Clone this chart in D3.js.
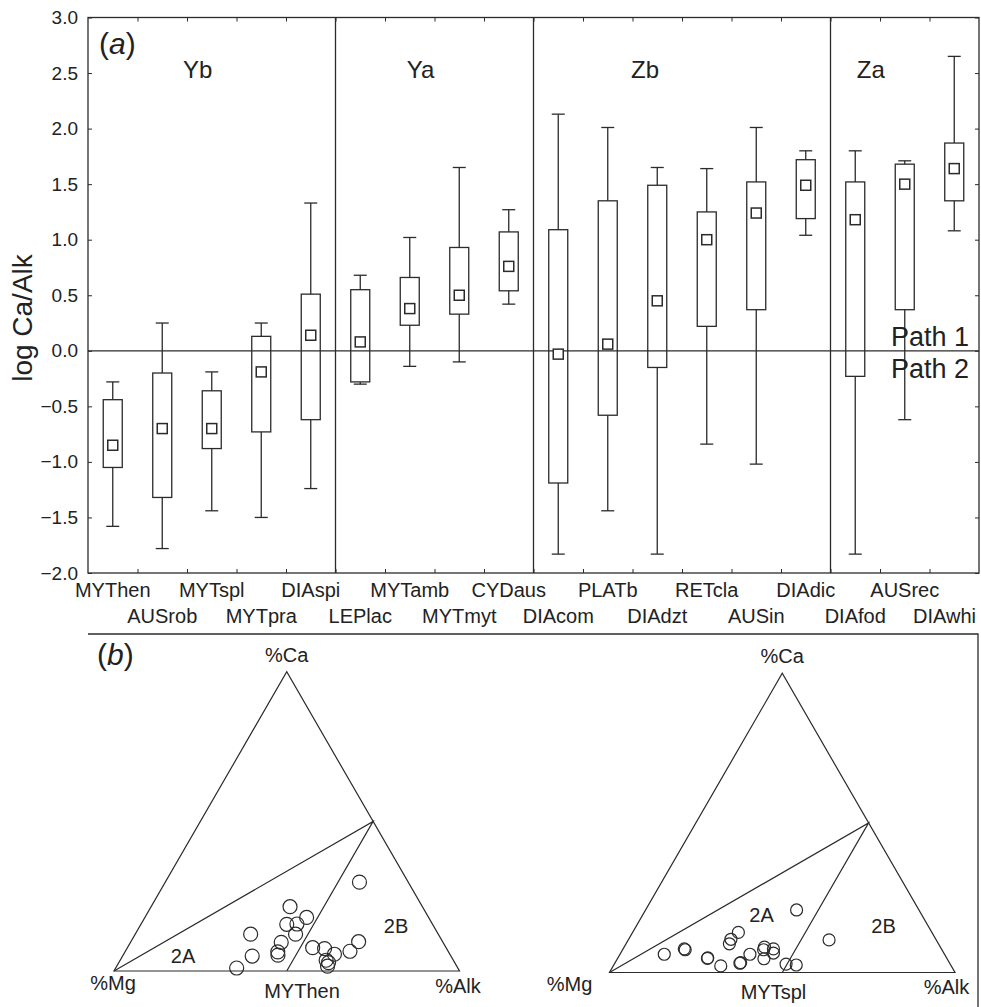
<!DOCTYPE html>
<html>
<head>
<meta charset="utf-8">
<script src="https://cdn.jsdelivr.net/npm/d3@7"></script>
<style>
  body { margin: 0; background: #fff; }
  svg text { font-family: "Liberation Sans", Arial, sans-serif; fill: #222; }
</style>
</head>
<body>
<svg width="981" height="1007"></svg>
<script>
// taxa along the x axis, grouped Yb / Ya / Zb / Za
const taxa = ["MYThen", "AUSrob", "MYTspl", "MYTpra", "DIAspi",
  "LEPlac", "MYTamb", "MYTmyt", "CYDaus",
  "DIAcom", "PLATb", "DIAdzt", "RETcla", "AUSin", "DIAdic",
  "DIAfod", "AUSrec", "DIAwhi"];
const groups = ["Yb", "Ya", "Zb", "Za"];
const groupEnds = [5, 9, 15, 18];   // index after last taxon of each group

// log Ca/Alk box summaries
const whiskerLow  = [-1.58, -1.78, -1.44, -1.50, -1.24, -0.30, -0.14, -0.10, 0.42, -1.83, -1.44, -1.83, -0.84, -1.02, 1.04, -1.83, -0.62, 1.08];
const boxLow      = [-1.05, -1.32, -0.88, -0.73, -0.62, -0.28, 0.23, 0.33, 0.54, -1.19, -0.58, -0.15, 0.22, 0.37, 1.19, -0.23, 0.37, 1.35];
const center      = [-0.85, -0.70, -0.70, -0.19, 0.14, 0.08, 0.38, 0.50, 0.76, -0.03, 0.06, 0.45, 1.00, 1.24, 1.49, 1.18, 1.50, 1.64];
const boxHigh     = [-0.44, -0.20, -0.36, 0.13, 0.51, 0.55, 0.66, 0.93, 1.07, 1.09, 1.35, 1.49, 1.25, 1.52, 1.72, 1.52, 1.68, 1.87];
const whiskerHigh = [-0.28, 0.25, -0.19, 0.25, 1.33, 0.68, 1.02, 1.65, 1.27, 2.13, 2.01, 1.65, 1.64, 2.01, 1.80, 1.80, 1.71, 2.65];

const yTicks = [-2.0, -1.5, -1.0, -0.5, 0.0, 0.5, 1.0, 1.5, 2.0, 2.5, 3.0];

// ternary compositions (%Ca, %Alk; %Mg is the rest) for the two example taxa
const mythenCa  = [29.7, 21.5, 17.9, 15.6, 15.7, 12.3, 12.3, 9.6, 9.8, 7.8, 7.5, 6.6, 5.6, 5.0, 6.4, 5.3, 3.6, 2.8, 1.6, 1.0];
const mythenAlk = [56.2, 40.2, 46.8, 42.2, 45.1, 46.4, 33.4, 43.6, 65.9, 53.6, 57.2, 65.0, 61.0, 37.5, 44.2, 44.8, 59.6, 60.7, 61.0, 35.0];
const mytsplCa  = [20.9, 13.4, 11.1, 9.6, 10.9, 6.1, 7.9, 7.6, 4.7, 4.9, 2.2, 3.1, 6.1, 8.5, 7.6, 7.9, 6.5, 4.6, 2.8, 2.5, 3.3];
const mytsplAlk = [43.7, 30.6, 29.6, 29.9, 58.1, 12.8, 17.7, 18.1, 26.0, 26.0, 31.1, 36.2, 37.6, 40.6, 40.8, 43.5, 44.2, 42.4, 49.7, 52.8, 36.3];

const ink = "#2b2b2b";
const font = '"Liberation Sans", Arial, sans-serif';
const svg = d3.select("svg");

// ---------- panel (a) ----------
const pLeft = 88, pRight = 979, pTop = 17.5, pBottom = 573;

const x = d3.scaleBand().domain(taxa).range([pLeft, pRight]).padding(0);
const y = d3.scaleLinear().domain([-2, 3]).range([pBottom, pTop]);
const slot = d3.scaleLinear().domain([0, taxa.length]).range([pLeft, pRight]);
const fmt = v => d3.format(".1f")(v).replace("-", "\u2212");

const a = svg.append("g");

a.append("g")
  .attr("transform", `translate(${pLeft},0)`)
  .call(d3.axisLeft(y).tickValues(yTicks).tickSize(-4).tickPadding(10).tickFormat(fmt))
  .call(g => g.select(".domain").remove())
  .call(g => g.selectAll("line").attr("stroke", ink))
  .call(g => g.selectAll("text").attr("font-size", 19).attr("font-family", font).attr("fill", "#222"));

a.append("g")
  .attr("transform", `translate(${pRight},0)`)
  .call(d3.axisRight(y).tickValues(yTicks).tickSize(-4).tickFormat(""))
  .call(g => g.select(".domain").remove())
  .call(g => g.selectAll("line").attr("stroke", ink));

const inner = d3.range(1, taxa.length);
a.append("g")
  .attr("transform", `translate(0,${pTop})`)
  .call(d3.axisTop(slot).tickValues(inner).tickSize(-4).tickFormat(""))
  .call(g => g.select(".domain").remove())
  .call(g => g.selectAll("line").attr("stroke", ink));
a.append("g")
  .attr("transform", `translate(0,${pBottom})`)
  .call(d3.axisBottom(slot).tickValues(inner).tickSize(-4).tickFormat(""))
  .call(g => g.select(".domain").remove())
  .call(g => g.selectAll("line").attr("stroke", ink));

a.append("rect")
  .attr("x", pLeft).attr("y", pTop)
  .attr("width", pRight - pLeft).attr("height", pBottom - pTop)
  .attr("fill", "none").attr("stroke", ink).attr("stroke-width", 1.3);

// group separators
a.selectAll(".sep")
  .data(groupEnds.slice(0, -1))
  .join("line")
  .attr("x1", d => slot(d)).attr("x2", d => slot(d))
  .attr("y1", pTop).attr("y2", pBottom)
  .attr("stroke", ink).attr("stroke-width", 1.3);

// Path 1 / Path 2 boundary
a.append("line")
  .attr("x1", pLeft).attr("x2", pRight)
  .attr("y1", y(0)).attr("y2", y(0))
  .attr("stroke", ink).attr("stroke-width", 1.3);

// group labels sit a little left of the group middle
const groupShift = [-14, -14, -37, -34];
a.selectAll(".grp")
  .data(groups)
  .join("text")
  .attr("x", (d, i) => (slot(i ? groupEnds[i - 1] : 0) + slot(groupEnds[i])) / 2 + groupShift[i])
  .attr("y", 78)
  .attr("text-anchor", "middle")
  .attr("font-size", 24)
  .text(d => d);

// boxes
const boxW = 19, capW = 13, mark = 10;
const boxes = a.append("g").attr("stroke", ink).attr("stroke-width", 1.3);
taxa.forEach((t, i) => {
  const cx = x(t) + x.bandwidth() / 2;
  const g = boxes.append("g");
  g.append("line").attr("x1", cx).attr("x2", cx).attr("y1", y(whiskerHigh[i])).attr("y2", y(boxHigh[i]));
  g.append("line").attr("x1", cx).attr("x2", cx).attr("y1", y(boxLow[i])).attr("y2", y(whiskerLow[i]));
  g.append("line").attr("x1", cx - capW / 2).attr("x2", cx + capW / 2).attr("y1", y(whiskerHigh[i])).attr("y2", y(whiskerHigh[i]));
  g.append("line").attr("x1", cx - capW / 2).attr("x2", cx + capW / 2).attr("y1", y(whiskerLow[i])).attr("y2", y(whiskerLow[i]));
  g.append("rect").attr("x", cx - boxW / 2).attr("y", y(boxHigh[i]))
    .attr("width", boxW).attr("height", y(boxLow[i]) - y(boxHigh[i])).attr("fill", "none");
  g.append("rect").attr("x", cx - mark / 2).attr("y", y(center[i]) - mark / 2)
    .attr("width", mark).attr("height", mark).attr("fill", "#fff").attr("stroke-width", 1.5);
});

// staggered category labels, kept inside the right edge
a.selectAll(".cat")
  .data(taxa)
  .join("text")
  .attr("x", d => x(d) + x.bandwidth() / 2)
  .attr("y", (d, i) => i % 2 ? 623 : 597)
  .attr("text-anchor", "middle")
  .attr("font-size", 20)
  .text(d => d)
  .each(function () {
    const w = this.getComputedTextLength();
    const cx = +this.getAttribute("x");
    if (cx + w / 2 > 976) this.setAttribute("x", 976 - w / 2);
  });

a.append("text")
  .attr("transform", `translate(32,318) rotate(-90)`)
  .attr("text-anchor", "middle")
  .attr("font-size", 28)
  .text("log Ca/Alk");

const lab = a.append("text").attr("x", 99).attr("y", 54).attr("font-size", 30);
lab.append("tspan").text("(");
lab.append("tspan").attr("font-style", "italic").text("a");
lab.append("tspan").text(")");

a.append("text").attr("x", 969).attr("y", 346).attr("text-anchor", "end").attr("font-size", 27).text("Path 1");
a.append("text").attr("x", 969).attr("y", 378).attr("text-anchor", "end").attr("font-size", 27).text("Path 2");

// ---------- panel (b) ----------
const b = svg.append("g");
b.append("path")
  .attr("d", `M${pLeft},634 H978 V1007`)
  .attr("fill", "none").attr("stroke", ink).attr("stroke-width", 1.3);

const labB = b.append("text").attr("x", 97).attr("y", 665).attr("font-size", 30);
labB.append("tspan").text("(");
labB.append("tspan").attr("font-style", "italic").text("b");
labB.append("tspan").text(")");

const side = 345.5;
const ternaries = [
  {name: "MYThen", ca: mythenCa, alk: mythenAlk, x0: 114, y0: 971, r: 7,
   lab: {mg: [-1, 19], name: [188, 27], alk: [344, 22], a2: [69, -8], b2: [282, -38]}},
  {name: "MYTspl", ca: mytsplCa, alk: mytsplAlk, x0: 609.5, y0: 972.5, r: 6,
   lab: {mg: [-40, 18], name: [164, 26], alk: [337, 21], a2: [152, -51], b2: [274, -40]}}
];

ternaries.forEach(t => {
  const h = side * Math.sqrt(3) / 2;
  const px = d3.scaleLinear().domain([0, 100]).range([t.x0, t.x0 + side]);
  const py = d3.scaleLinear().domain([0, 100]).range([t.y0, t.y0 - h]);
  // ternary point: alk along the base, ca up towards apex
  const pt = (ca, alk) => [px(alk + ca / 2), py(ca)];
  const g = b.append("g");
  const line = d3.line();

  g.append("path")
    .attr("d", line([pt(0, 0), pt(0, 100), pt(100, 0)]) + "Z")
    .attr("fill", "none").attr("stroke", ink).attr("stroke-width", 1.2);
  g.append("path")
    .attr("d", line([pt(0, 0), pt(50, 50), pt(0, 50)]))
    .attr("fill", "none").attr("stroke", ink).attr("stroke-width", 1.2);

  g.selectAll("circle")
    .data(t.ca.map((c, i) => [c, t.alk[i]]))
    .join("circle")
    .attr("cx", d => pt(d[0], d[1])[0])
    .attr("cy", d => pt(d[0], d[1])[1])
    .attr("r", t.r)
    .attr("fill", "none").attr("stroke", ink).attr("stroke-width", 1.2);

  const apex = pt(100, 0);
  g.append("text").attr("x", apex[0]).attr("y", apex[1] - 10)
    .attr("text-anchor", "middle").attr("font-size", 20).text("%Ca");
  const txt = (k, s) => g.append("text")
    .attr("x", t.x0 + t.lab[k][0]).attr("y", t.y0 + t.lab[k][1])
    .attr("text-anchor", "middle").attr("font-size", 20).text(s);
  txt("mg", "%Mg");
  txt("name", t.name);
  txt("alk", "%Alk");
  txt("a2", "2A");
  txt("b2", "2B");
});
</script>
</body>
</html>
